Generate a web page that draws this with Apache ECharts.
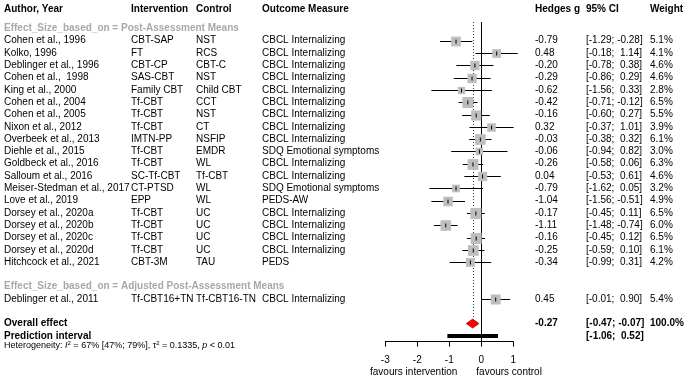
<!DOCTYPE html>
<html>
<head>
<meta charset="utf-8">
<script src="https://cdn.jsdelivr.net/npm/echarts@6/dist/echarts.min.js"></script>
<style>html,body{margin:0;padding:0;background:#fff}#chart{width:685px;height:378px}</style>
</head>
<body>
<div id="chart"></div>
<script>
// study data
var authors = ['Cohen et al., 1996', 'Kolko, 1996', 'Deblinger et al., 1996', 'Cohen et al.,  1998', 'King et al., 2000',
    'Cohen et al., 2004', 'Cohen et al., 2005', 'Nixon et al., 2012', 'Overbeek et al., 2013', 'Diehle et al., 2015',
    'Goldbeck et al., 2016', 'Salloum et al., 2016', 'Meiser-Stedman et al., 2017', 'Love et al., 2019',
    'Dorsey et al., 2020a', 'Dorsey et al., 2020b', 'Dorsey et al., 2020c', 'Dorsey et al., 2020d',
    'Hitchcock et al., 2021', 'Deblinger et al., 2011'];
var interventions = ['CBT-SAP', 'FT', 'CBT-CP', 'SAS-CBT', 'Family CBT', 'Tf-CBT', 'Tf-CBT', 'Tf-CBT', 'IMTN-PP', 'Tf-CBT',
    'Tf-CBT', 'SC-Tf-CBT', 'CT-PTSD', 'EPP', 'Tf-CBT', 'Tf-CBT', 'Tf-CBT', 'Tf-CBT', 'CBT-3M', 'Tf-CBT16+TN'];
var controls = ['NST', 'RCS', 'CBT-C', 'NST', 'Child CBT', 'CCT', 'NST', 'CT', 'NSFIP', 'EMDR',
    'WL', 'Tf-CBT', 'WL', 'WL', 'UC', 'UC', 'UC', 'UC', 'TAU', 'Tf-CBT16-TN'];
var outcomes = ['CBCL Internalizing', 'CBCL Internalizing', 'CBCL Internalizing', 'CBCL Internalizing', 'CBCL Internalizing',
    'CBCL Internalizing', 'CBCL Internalizing', 'CBCL Internalizing', 'CBCL Internalizing', 'SDQ Emotional symptoms',
    'CBCL Internalizing', 'CBCL Internalizing', 'SDQ Emotional symptoms', 'PEDS-AW', 'CBCL Internalizing',
    'CBCL Internalizing', 'CBCL Internalizing', 'CBCL Internalizing', 'PEDS', 'CBCL Internalizing'];
var hedgesG = [-0.79, 0.48, -0.20, -0.29, -0.62, -0.42, -0.16, 0.32, -0.03, -0.06,
    -0.26, 0.04, -0.79, -1.04, -0.17, -1.11, -0.16, -0.25, -0.34, 0.45];
var ciLower = [-1.29, -0.18, -0.78, -0.86, -1.56, -0.71, -0.60, -0.37, -0.38, -0.94,
    -0.58, -0.53, -1.62, -1.56, -0.45, -1.48, -0.45, -0.59, -0.99, -0.01];
var ciUpper = [-0.28, 1.14, 0.38, 0.29, 0.33, -0.12, 0.27, 1.01, 0.32, 0.82,
    0.06, 0.61, 0.05, -0.51, 0.11, -0.74, 0.12, 0.10, 0.31, 0.90];
var weights = [5.1, 4.1, 4.6, 4.6, 2.8, 6.5, 5.5, 3.9, 6.1, 3.0,
    6.3, 4.6, 3.2, 4.9, 6.5, 6.0, 6.5, 6.1, 4.2, 5.4];
var subgroup = [0, 0, 0, 0, 0, 0, 0, 0, 0, 0, 0, 0, 0, 0, 0, 0, 0, 0, 0, 1];
var subgroupTitles = ['Effect_Size_based_on = Post-Assessment Means',
    'Effect_Size_based_on = Adjusted Post-Assessment Means'];
var headers = ['Author, Year', 'Intervention', 'Control', 'Outcome Measure', 'Hedges g', '95% CI', 'Weight'];
var overall = {g: -0.27, lo: -0.47, hi: -0.07, weight: 100.0};
var prediction = {lo: -1.06, hi: 0.52};
var hetero = {i2: 67, i2Lo: 47, i2Hi: 79, tau2: 0.1335, p: '< 0.01'};
var xTicks = [-3, -2, -1, 0, 1];
var favourLabels = ['favours intervention', 'favours control'];

// layout
var FONT = '"Liberation Sans", Arial, sans-serif';
var ROW_H = 12.3, TOP = 3.8, AXIS_ROW = 27.47, LINE_TOP_ROW = 1.48;
var COLS = [4, 131, 196, 262, 535, 586, 650];
var SQUARE_MAX = 11;
var maxW = Math.max.apply(null, weights);

function studyRow(i) { return 3 + i + 2 * subgroup[i]; }
var overallRow = studyRow(weights.length - 1) + 2;

function pad(v) { return (v < 0 ? '' : ' ') + v.toFixed(2); }
function ci(lo, hi) { return '[' + pad(lo) + '; ' + pad(hi) + ']'; }

var chart = echarts.init(document.getElementById('chart'));

// text rows of the table
var textRows = [];
textRows.push({row: 0.42, bold: true, color: '#000', cells: headers.map(function (h, k) { return [COLS[k], h]; })});
subgroupTitles.forEach(function (t, s) {
    var first = subgroup.indexOf(s);
    textRows.push({row: studyRow(first) - 1, bold: true, color: '#a8a8a8', cells: [[COLS[0], t]]});
});
authors.forEach(function (a, i) {
    textRows.push({row: studyRow(i), bold: false, color: '#000', cells: [
        [COLS[0], a], [COLS[1], interventions[i]], [COLS[2], controls[i]], [COLS[3], outcomes[i]],
        [COLS[4], hedgesG[i].toFixed(2)], [COLS[5], ci(ciLower[i], ciUpper[i])], [COLS[6], weights[i].toFixed(1) + '%']
    ]});
});
textRows.push({row: overallRow, bold: true, color: '#000', cells: [
    [COLS[0], 'Overall effect'], [COLS[4], overall.g.toFixed(2)], [COLS[5], ci(overall.lo, overall.hi)],
    [COLS[6], overall.weight.toFixed(1) + '%']]});
textRows.push({row: overallRow + 1, bold: true, color: '#000', cells: [
    [COLS[0], 'Prediction interval'], [COLS[5], ci(prediction.lo, prediction.hi)]]});

var option = {
    animation: false,
    grid: {left: 385.3, top: TOP, width: 128, height: AXIS_ROW * ROW_H},
    xAxis: {
        type: 'value', min: xTicks[0], max: xTicks[xTicks.length - 1], interval: 1,
        position: 'bottom',
        axisLine: {onZero: false, lineStyle: {color: '#000', width: 1}},
        axisTick: {length: 5, lineStyle: {color: '#000'}},
        axisLabel: {fontSize: 10, color: '#000', fontFamily: FONT, margin: 14},
        splitLine: {show: false}
    },
    yAxis: {type: 'value', inverse: true, min: 0, max: AXIS_ROW, show: false},
    series: [{
        // reference line and dotted overall line
        type: 'custom', silent: true, z: 1,
        data: [[0, LINE_TOP_ROW, AXIS_ROW, 0], [overall.g, LINE_TOP_ROW, overallRow, 1]],
        renderItem: function (params, api) {
            var a = api.coord([api.value(0), api.value(1)]);
            var b = api.coord([api.value(0), api.value(2)]);
            var dotted = api.value(3) === 1;
            var x = Math.round(a[0]) + 0.5;
            return {type: 'line', shape: {x1: x, y1: a[1], x2: x, y2: dotted ? b[1] - 4.5 : b[1]},
                style: {stroke: dotted ? '#333' : '#000', lineWidth: 1, lineDash: dotted ? [1, 2] : null}};
        }
    }, {
        // studies: CI line, weighted square, estimate tick
        type: 'custom', silent: true, z: 2,
        data: hedgesG.map(function (g, i) { return [g, studyRow(i), ciLower[i], ciUpper[i], weights[i]]; }),
        renderItem: function (params, api) {
            var row = api.value(1);
            var c = api.coord([api.value(0), row]);
            var lo = api.coord([api.value(2), row]);
            var hi = api.coord([api.value(3), row]);
            var side = SQUARE_MAX * Math.sqrt(api.value(4) / maxW);
            var y = Math.round(c[1]) + 0.5;
            return {type: 'group', children: [
                {type: 'line', shape: {x1: lo[0], y1: y, x2: hi[0], y2: y}, style: {stroke: '#000', lineWidth: 1}},
                {type: 'rect', shape: {x: c[0] - side / 2, y: y - side / 2, width: side, height: side}, style: {fill: '#bebebe'}},
                {type: 'line', shape: {x1: c[0], y1: y - 2, x2: c[0], y2: y + 2}, style: {stroke: '#000', lineWidth: 1}}
            ]};
        }
    }, {
        // overall diamond and prediction interval bar
        type: 'custom', silent: true, z: 3,
        data: [[overall.g, overallRow, overall.lo, overall.hi, 0], [0, overallRow + 1, prediction.lo, prediction.hi, 1]],
        renderItem: function (params, api) {
            var row = api.value(1);
            var c = api.coord([api.value(0), row]);
            var lo = api.coord([api.value(2), row]);
            var hi = api.coord([api.value(3), row]);
            if (api.value(4) === 0) {
                return {type: 'polygon', shape: {points: [[lo[0], c[1]], [c[0], c[1] - 4.5], [hi[0], c[1]], [c[0], c[1] + 4.5]]},
                    style: {fill: '#ff0000', stroke: '#a00000', lineWidth: 0.7}};
            }
            return {type: 'rect', shape: {x: lo[0], y: c[1] - 2, width: hi[0] - lo[0], height: 4}, style: {fill: '#000'}};
        }
    }, {
        // table text
        type: 'custom', silent: true, z: 4,
        data: textRows.map(function (r, i) { return [0, r.row, i]; }),
        renderItem: function (params, api) {
            var r = textRows[api.value(2)];
            var y = api.coord([0, api.value(1)])[1];
            return {type: 'group', children: r.cells.map(function (cell) {
                return {type: 'text', style: {x: cell[0], y: y, text: cell[1], fill: r.color, fontSize: 10,
                    fontWeight: r.bold ? 'bold' : 'normal', fontFamily: FONT, align: 'left', verticalAlign: 'middle'}};
            })};
        }
    }, {
        // heterogeneity line and favour labels
        type: 'custom', silent: true, z: 4,
        data: [[0, overallRow + 2]],
        renderItem: function (params, api) {
            var y = api.coord([0, api.value(1)])[1];
            var zero = api.coord([0, AXIS_ROW]);
            var txt = '{n|Heterogeneity: }{i|I}{s|2}{n| = ' + hetero.i2 + '% [' + hetero.i2Lo + '%; ' + hetero.i2Hi + '%], }' +
                '{n|\u03c4}{s|2}{n| = ' + hetero.tau2 + ', }{i|p}{n| ' + hetero.p + '}';
            var base = {fontFamily: FONT, fontSize: 9, fill: '#000'};
            return {type: 'group', children: [
                {type: 'text', style: {x: COLS[0], y: y - 3, text: txt, verticalAlign: 'middle', align: 'left',
                    fontFamily: FONT, fontSize: 9, fill: '#000',
                    rich: {n: base, i: {fontFamily: FONT, fontSize: 9, fontStyle: 'italic'},
                        s: {fontFamily: FONT, fontSize: 6, verticalAlign: 'top'}}}},
                {type: 'text', style: {x: zero[0] - 24, y: zero[1] + 31, text: favourLabels[0], align: 'right',
                    verticalAlign: 'middle', fontFamily: FONT, fontSize: 10, fill: '#000'}},
                {type: 'text', style: {x: zero[0] - 5, y: zero[1] + 31, text: favourLabels[1], align: 'left',
                    verticalAlign: 'middle', fontFamily: FONT, fontSize: 10, fill: '#000'}}
            ]};
        }
    }]
};
chart.setOption(option);
</script>
</body>
</html>
